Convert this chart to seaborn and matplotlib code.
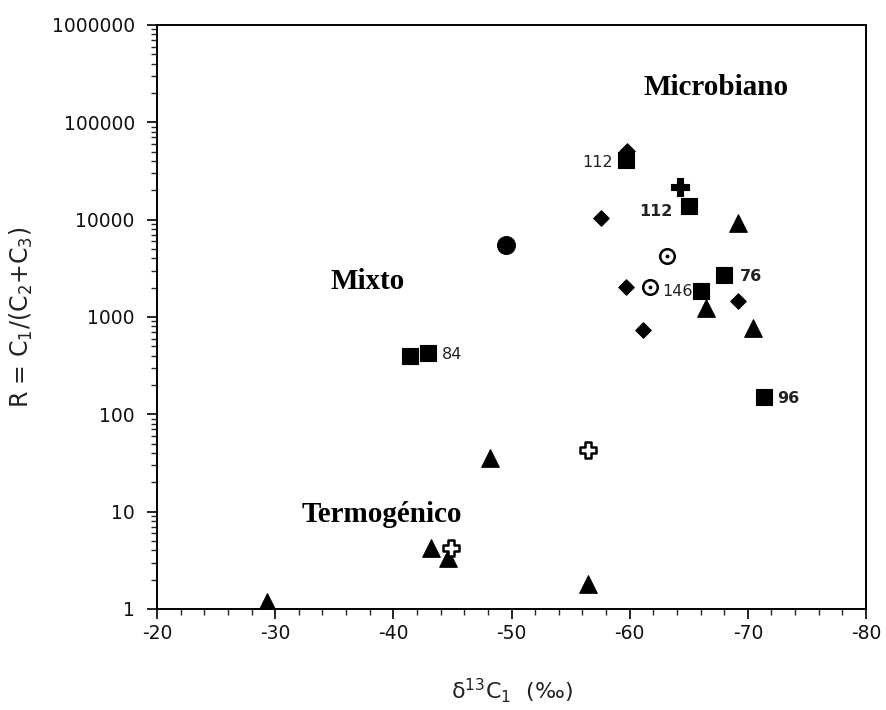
import numpy as np
import pandas as pd
import seaborn as sns
import matplotlib.pyplot as plt
from matplotlib.ticker import FixedLocator, MultipleLocator, LogLocator, FuncFormatter, NullFormatter

# datos: delta13C1 (permil) y R = C1/(C2+C3)
tri_x = [-29.3, -43.2, -44.6, -48.2, -56.5, -66.5, -69.2, -70.4]
tri_y = [1.18, 4.24, 3.34, 35.6, 1.8, 1240, 9270, 773]

dia_x = [-59.8, -57.6, -59.7, -61.1, -69.2]
dia_y = [51000, 10400, 2040, 737, 1465]

sq_x = [-41.4, -42.9, -59.7, -65.0, -66.0, -68.0, -71.4]
sq_y = [398, 425, 41200, 13900, 1855, 2710, 151]

circ_x = [-49.5]
circ_y = [5510]

ocirc_x = [-63.2, -61.7]
ocirc_y = [4250, 2040]

plus_x = [-64.3]
plus_y = [21700]

oplus_x = [-56.5, -44.9]
oplus_y = [43, 4.2]

# etiquetas de muestras
lab_text = ['112', '112', '146', '76', '96', '84']
lab_x = [-58.6, -63.65, -62.72, -69.32, -72.45, -44.11]
lab_y = [38400, 12000, 1810, 2580, 147, 408]
lab_bold = [False, True, False, True, True, False]
lab_ha = ['right', 'right', 'left', 'left', 'left', 'left']

# zonas
zona_text = ['Microbiano', 'Mixto', 'Termogénico']
zona_x = [-67.3, -37.8, -39.0]
zona_y = [226000, 2290, 9.25]

x_ticks = [-20, -30, -40, -50, -60, -70, -80]
y_ticks = [1, 10, 100, 1000, 10000, 100000, 1000000]

sns.set_style('ticks')
plt.rcParams['font.family'] = ['DejaVu Sans']
plt.rcParams['mathtext.fontset'] = 'dejavusans'

fig = plt.figure(figsize=(8.86, 7.10), dpi=100)
ax = fig.add_axes([157 / 886, 1 - 609 / 710, (866 - 157) / 886, (609 - 25) / 710])


def puntos(xs, ys, marker, s, face='black', lw=0.8):
    df = pd.DataFrame({'x': xs, 'y': ys})
    sns.scatterplot(data=df, x='x', y='y', marker=marker, s=s, color=face,
                    edgecolor='black', linewidth=lw, ax=ax, zorder=3)


puntos(dia_x, dia_y, 'D', 62)
puntos(tri_x, tri_y, '^', 160)
puntos(sq_x, sq_y, 's', 140)
puntos(circ_x, circ_y, 'o', 165)
puntos(ocirc_x, ocirc_y, 'o', 110, face='white', lw=1.8)
puntos(ocirc_x, ocirc_y, 'o', 4)
puntos(plus_x, plus_y, 'P', 160)
puntos(oplus_x, oplus_y, 'P', 125, face='white', lw=1.8)

for t, x, y, b, ha in zip(lab_text, lab_x, lab_y, lab_bold, lab_ha):
    ax.text(x, y, t, ha=ha, va='center', fontsize=11.5,
            fontweight='bold' if b else 'normal', color='#222222', zorder=4)

for t, x, y in zip(zona_text, zona_x, zona_y):
    ax.text(x, y, t, ha='center', va='center', fontsize=21, fontweight='bold',
            family=['Liberation Serif', 'DejaVu Serif'], color='black')

ax.set_yscale('log')
ax.set_xlim(-20, -80)
ax.set_ylim(1, 1000000)
ax.xaxis.set_major_locator(FixedLocator(x_ticks))
ax.xaxis.set_minor_locator(MultipleLocator(2))
ax.yaxis.set_major_locator(FixedLocator(y_ticks))
ax.yaxis.set_minor_locator(LogLocator(base=10, subs=np.arange(2, 10), numticks=20))
ax.yaxis.set_minor_formatter(NullFormatter())
ax.xaxis.set_major_formatter(FuncFormatter(lambda v, p: f'{v:.0f}'))
ax.yaxis.set_major_formatter(FuncFormatter(lambda v, p: f'{v:.0f}'))

ax.tick_params(axis='both', which='major', direction='out', length=7, width=1.2,
               labelsize=13.5, colors='black', labelcolor='#111111')
ax.tick_params(axis='both', which='minor', direction='out', length=4, width=1.0)
ax.tick_params(axis='x', which='major', pad=4)
ax.tick_params(axis='y', which='major', pad=9)

for sp in ax.spines.values():
    sp.set_visible(True)
    sp.set_linewidth(1.4)
    sp.set_color('black')

ax.set_xlabel('δ$^{13}$C$_1$  (‰)', fontsize=16, labelpad=24, color='#222222')
ax.set_ylabel(r'R = C$_1$/(C$_2$+C$_3$)', fontsize=17, labelpad=12, color='#222222')

fig.savefig('out.png', dpi=100)
